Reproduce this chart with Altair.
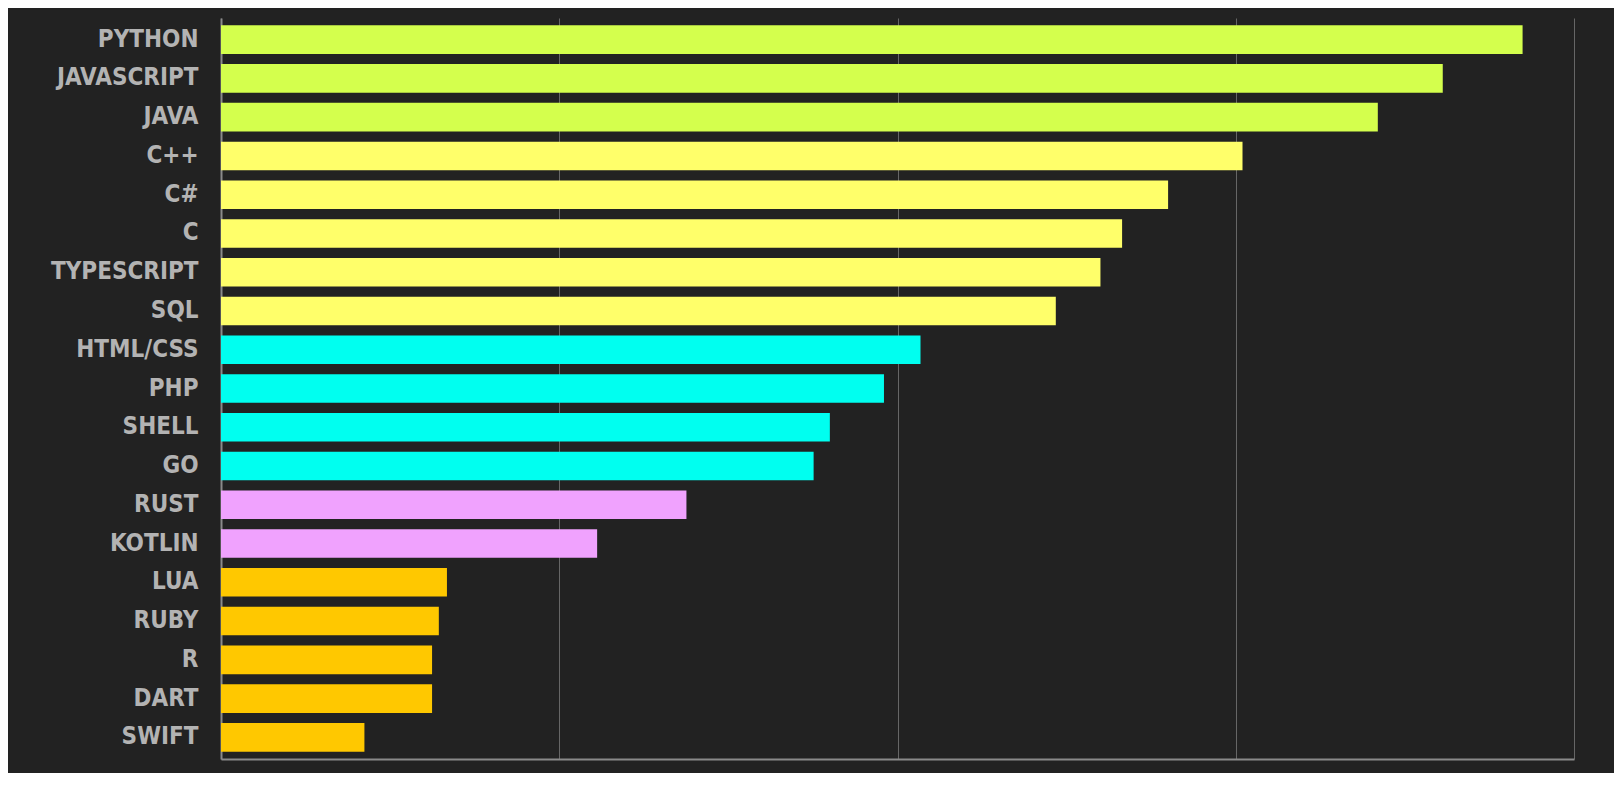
import altair as alt
import pandas as pd

languages = ["PYTHON", "JAVASCRIPT", "JAVA", "C++", "C#", "C", "TYPESCRIPT", "SQL",
             "HTML/CSS", "PHP", "SHELL", "GO", "RUST", "KOTLIN", "LUA", "RUBY", "R",
             "DART", "SWIFT"]
values = [96.2, 90.3, 85.5, 75.5, 70.0, 66.6, 65.0, 61.7, 51.7, 49.0, 45.0, 43.8,
          34.4, 27.8, 16.7, 16.1, 15.6, 15.6, 10.6]
groups = ["g1", "g1", "g1", "g2", "g2", "g2", "g2", "g2", "g3", "g3", "g3", "g3",
          "g4", "g4", "g5", "g5", "g5", "g5", "g5"]
group_names = ["g1", "g2", "g3", "g4", "g5"]
group_colors = ["#d4ff4d", "#ffff6a", "#00fff0", "#f0a2fe", "#ffc800"]
x_ticks = [0, 25, 50, 75, 100]

df = pd.DataFrame({"lang": languages, "value": values, "group": groups})

font = "Liberation Sans Narrow, DejaVu Sans Condensed, sans-serif"

chart = alt.Chart(df).mark_bar().encode(
    y=alt.Y("lang:N", sort=languages, title=None,
            scale=alt.Scale(paddingInner=0.26, paddingOuter=0.19),
            axis=alt.Axis(labelFont=font, labelFontSize=24, labelFontWeight="bold",
                          labelColor="#b3b3b3", ticks=False, domain=True,
                          domainColor="#8a8a8a", domainWidth=2, labelPadding=23,
                          minExtent=208, maxExtent=208, grid=False)),
    x=alt.X("value:Q", title=None,
            scale=alt.Scale(domain=[0, 100], nice=False),
            axis=alt.Axis(values=x_ticks, labels=False, ticks=False, domain=True,
                          domainColor="#8a8a8a", domainWidth=2, grid=True,
                          gridColor="#666666", gridWidth=1)),
    color=alt.Color("group:N", legend=None,
                    scale=alt.Scale(domain=group_names, range=group_colors)),
).properties(
    width=1353, height=741,
    background="#222222",
    padding={"left": 5, "top": 10, "right": 40, "bottom": 14},
).configure_view(stroke=None)

chart.save("out.html", embed_options={"renderer": "svg", "actions": False})
